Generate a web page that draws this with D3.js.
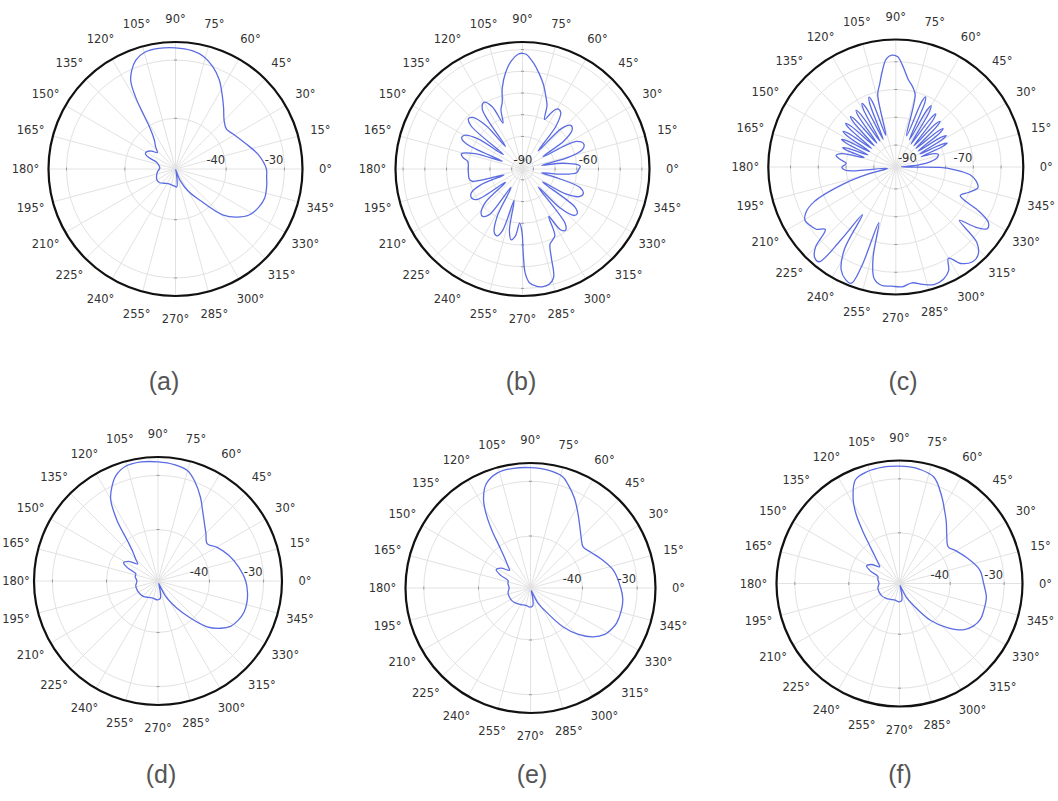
<!DOCTYPE html>
<html>
<head>
<meta charset="utf-8">
<script src="https://cdn.jsdelivr.net/npm/d3@7"></script>
<style>
body { margin: 0; background: #fff; }
svg { display: block; }
</style>
</head>
<body>
<svg id="chart" width="1058" height="801"></svg>
<script>
// angle ticks every 15 degrees
var angleTicks = d3.range(0, 360, 15);

// (a) far-field pattern, dB
var angA = [0,10,20,30,38,45,52,58,64,70,76,82,90,98,105,110,114,117,119,120.5,122,126,132,138,143,148,153,157,160,168,177,188,198,210,221,232,243,255,265,274,278,284,288,292,300,308,316,322,328,335,342,350,355];
var dbA  = [-33.1,-34.3,-35.9,-37.0,-37.6,-36.9,-35.3,-33.6,-31.6,-30.0,-28.8,-28.2,-27.9,-27.8,-28.0,-28.8,-30.2,-31.8,-34.5,-38.0,-40.5,-42.5,-43.6,-44.5,-43.6,-43.0,-42.9,-43.8,-45.2,-45.8,-46.0,-45.6,-45.3,-45.0,-45.1,-45.6,-45.9,-45.9,-45.8,-45.6,-46.8,-48.2,-48.6,-46.6,-44.3,-41.9,-37.3,-35.3,-33.8,-33.0,-32.6,-32.8,-33.0];

// (b)
var angB = [0,3,8,11,14,18,22,27,31,34,38,42,46,49,52,56,60,63,66,69,72.5,76,80,84,88,90,92,96,100,104,107,110,113,116,120,124,127,130,134,137,140,143,146,150,153,156,159,162,166,169,172,176,180,185,190,193.5,196,198,201,205,210,214,218,222,227,230,234,238,242,246,249,252,255,258,261,264,267,269.5,270.5,271.5,273.5,277,280,283,286,288,290,293,296,299,302,305,308,311,314,318,321,324,327,330,334,338,342,346,349,352,356];
var dbB  = [-69,-68.4,-76,-86,-74,-66,-64.5,-67,-84,-72,-66,-65,-69,-84,-70,-63.5,-63,-66,-70,-63.5,-59.5,-55,-50.5,-46,-42.2,-41.7,-42,-45,-50,-56.5,-63,-66,-72,-63,-59.5,-62,-82,-69,-62,-61,-64,-84,-70,-64,-63.5,-67,-85,-72,-66,-67,-69.5,-70,-70,-70,-70,-71,-80,-86,-74,-69,-68,-70,-85,-72,-67,-66.5,-69,-85,-70,-63,-62,-65,-80,-66,-62,-64,-70,-66,-56,-47,-42.5,-40.5,-40,-40.5,-43,-52,-58,-59.5,-61,-70,-62,-60.5,-63,-84,-70,-63,-62.5,-65,-84,-72,-66,-64.8,-67,-80,-86,-78,-70];

// (c)
var angC = [1,5,9,13,17,20,22,23.7,25,26.3,28.5,30.7,32,33.3,35.5,37.7,39,40.3,42.5,44.7,46,47.3,49.5,51.7,53,54.3,56.5,58.7,60,61.3,63.5,65.7,67,68.3,71,75,78,82,86,89,92,95,98,101,104,107.5,109.7,111,112.3,114.5,116.7,118,119.3,121.5,123.7,125,126.3,128.5,130.7,132,133.3,135.5,137.7,139,140.3,142.5,144.7,146,147.3,149.5,151.7,153,154.3,156.5,158.7,160,161.3,163.5,166,169,172,176,180,184,189,194,198,203,207,210.5,214,218,221.5,225,228,231,233,235,238,242,246,249,251,253,256,259,263,268,273,278,283,288,293,297,300,304,309,313,317,320,323,326,329,332,336,341,346,350,354,357.5,359.5];
var dbC  = [-96,-90,-85,-82.5,-82,-84,-88,-79.5,-77.5,-79.5,-88,-78.5,-76.5,-78.5,-88,-78,-76,-78,-88,-77,-75,-77,-88,-76,-74,-76,-88,-74.5,-72.5,-74.5,-87,-72.5,-70.5,-72.5,-86,-71,-68.5,-66,-61.5,-58.2,-57.6,-58.8,-63,-67.5,-71,-86,-73,-71,-73,-87,-74,-72,-74,-87,-75,-73,-75,-87,-75.5,-73.5,-75.5,-87,-76,-74,-76,-87,-77,-75,-77,-87,-78,-76,-78,-87,-79.5,-77.5,-79.5,-86,-78,-76,-77.5,-80,-78.5,-80,-95,-88,-78,-66,-61.5,-60,-60.5,-61.5,-64,-57,-54.2,-54,-65,-77,-63,-56,-53.5,-53,-60,-77,-64,-57,-55,-55,-54.7,-55.8,-54.5,-53.4,-54,-56,-60,-56,-54,-54.5,-58,-68,-62,-58.2,-59,-64,-72.5,-70,-67.4,-68.5,-71,-77,-82];

// (d)
var angD = [0,10,20,30,37,45,53,58,63,70,75,82,90,98,106,112,116,120,124,127,131,136,140,146,152,157,162,169,180,192,203,215,228,240,255,268,277,282,287,292,296,302,308,317,323,328,334,340,346,352];
var dbD  = [-33.3,-34.4,-35.6,-37.0,-38.1,-37.0,-35.4,-34.0,-32.2,-29.8,-28.4,-27.8,-27.5,-27.3,-27.5,-28.6,-30.1,-32.0,-35.9,-40.0,-42.5,-43.8,-44.6,-43.0,-42.3,-43.5,-45.2,-45.2,-45.6,-45.3,-45.3,-45.4,-45.6,-46.0,-46.2,-46.0,-46.2,-47.5,-49.0,-48.5,-46.5,-44.5,-42.0,-37.1,-35.0,-33.7,-33.0,-32.6,-32.6,-32.8];

// (e)
var angE = [0,12,22,30,38,45,52,58,64,70,74,82,90,98,106,113,118,121,124,127,131,136,140,146,152,157,162,169,180,192,203,215,228,240,255,268,277,282,287,292,296,302,310,316,322,328,334,338,346,353];
var dbE  = [-33.0,-34.0,-35.5,-36.6,-37.3,-36.4,-34.9,-33.2,-31.2,-29.4,-28.3,-27.7,-27.5,-27.4,-27.6,-28.8,-31.2,-33.8,-37.0,-40.2,-42.4,-43.8,-44.5,-43.0,-42.4,-43.6,-45.2,-45.3,-45.6,-45.3,-45.3,-45.4,-45.7,-46.0,-46.2,-46.0,-46.2,-47.5,-49.0,-48.5,-46.6,-44.8,-40.2,-37.3,-35.0,-33.5,-32.8,-32.5,-32.4,-32.5];

// (f)
var angF = [0,9.5,20,30,37,45,53,58,64,72,80,85,90,98,106,113,119,122,125,128,132,136,140,146,152,157,162,169,180,192,203,215,228,240,255,268,277,282,287,292,296,302,310,317,324,330,336,342,351,356];
var dbF  = [-33.8,-34.3,-35.9,-37.3,-38.1,-37.0,-35.0,-33.6,-31.5,-28.7,-27.9,-27.7,-27.65,-27.6,-27.8,-28.5,-31.7,-34.2,-37.5,-40.3,-42.6,-43.9,-44.6,-43.1,-42.5,-43.6,-45.2,-45.3,-45.6,-45.3,-45.3,-45.4,-45.7,-46.0,-46.2,-46.0,-46.2,-47.5,-49.0,-48.5,-46.6,-44.8,-40.5,-37.5,-34.8,-33.6,-33.0,-33.0,-33.1,-33.5];

var panels = [
  {name: '(a)', cx: 175.5, cy: 169, R: 127, dom: [-48.7, -26.9], rings: [-40, -30], labels: [-40, -30], ang: angA, db: dbA, lx: 164, ly: 390},
  {name: '(b)', cx: 522.5, cy: 169, R: 127, dom: [-95, -36.5], rings: [-90, -80, -70, -60, -50, -40], labels: [-90, -60], ang: angB, db: dbB, lx: 521, ly: 390},
  {name: '(c)', cx: 895.8, cy: 167, R: 127.5, dom: [-97.9, -52], rings: [-90, -80, -70, -60], labels: [-90, -70], ang: angC, db: dbC, lx: 903, ly: 390},
  {name: '(d)', cx: 158, cy: 581, R: 124, dom: [-49.5, -26.6], rings: [-40, -30], labels: [-40, -30], ang: angD, db: dbD, lx: 161, ly: 783},
  {name: '(e)', cx: 530.5, cy: 588, R: 125, dom: [-49.5, -26.65], rings: [-40, -30], labels: [-40, -30], ang: angE, db: dbE, lx: 532, ly: 783},
  {name: '(f)', cx: 899.5, cy: 583.5, R: 123, dom: [-49.4, -26.6], rings: [-40, -30], labels: [-40, -30], ang: angF, db: dbF, lx: 900, ly: 783}
];

var svg = d3.select('#chart');
var toRad = Math.PI / 180;

panels.forEach(function(p) {
  var g = svg.append('g').attr('transform', 'translate(' + p.cx + ',' + p.cy + ')');
  var r = d3.scaleLinear().domain(p.dom).range([0, p.R]).clamp(true);

  // spokes
  g.selectAll('line.spoke').data(angleTicks).enter().append('line')
    .attr('class', 'spoke')
    .attr('x1', 0).attr('y1', 0)
    .attr('x2', function(a) { return p.R * Math.cos(a * toRad); })
    .attr('y2', function(a) { return -p.R * Math.sin(a * toRad); })
    .attr('stroke', '#e2e2e2').attr('stroke-width', 1);

  // rings
  g.selectAll('circle.ring').data(p.rings).enter().append('circle')
    .attr('class', 'ring')
    .attr('r', function(v) { return r(v); })
    .attr('fill', 'none').attr('stroke', '#e2e2e2').attr('stroke-width', 1);

  // small ticks where rings cross the axes
  [0, 90, 180, 270].forEach(function(a) {
    var ca = Math.cos(a * toRad), sa = -Math.sin(a * toRad);
    g.selectAll(null).data(p.rings).enter().append('line')
      .attr('x1', function(v) { return r(v) * ca - 1.5 * sa; })
      .attr('y1', function(v) { return r(v) * sa + 1.5 * ca; })
      .attr('x2', function(v) { return r(v) * ca + 1.5 * sa; })
      .attr('y2', function(v) { return r(v) * sa - 1.5 * ca; })
      .attr('stroke', '#999').attr('stroke-width', 1);
  });

  // pattern curve
  var pts = p.ang.map(function(a, i) { return {a: a, v: p.db[i]}; });
  var line = d3.lineRadial()
    .angle(function(d) { return (90 - d.a) * toRad; })
    .radius(function(d) { return r(d.v); })
    .curve(d3.curveCatmullRomClosed.alpha(0.5));
  g.append('path').attr('d', line(pts))
    .attr('fill', 'none').attr('stroke', '#5b6ce2').attr('stroke-width', 1.3);

  // outer circle
  g.append('circle').attr('r', p.R)
    .attr('fill', 'none').attr('stroke', '#111').attr('stroke-width', 2.2);

  // radial labels
  g.selectAll('text.rl').data(p.labels).enter().append('text')
    .attr('class', 'rl')
    .attr('x', function(v) { return r(v) - 1; })
    .attr('y', -5)
    .attr('text-anchor', 'end')
    .attr('font-family', 'DejaVu Sans, sans-serif').attr('font-size', 11.5)
    .attr('fill', '#333')
    .text(function(v) { return v; });

  // angle labels (kept inside the page on the left edge)
  g.selectAll('text.al').data(angleTicks).enter().append('text')
    .attr('class', 'al')
    .attr('x', function(a) {
      var x = (p.R + 23) * Math.cos(a * toRad);
      return Math.max(x, 16 - p.cx);
    })
    .attr('y', function(a) { return -(p.R + 23) * Math.sin(a * toRad); })
    .attr('text-anchor', 'middle').attr('dominant-baseline', 'central')
    .attr('font-family', 'DejaVu Sans, sans-serif').attr('font-size', 11.5)
    .attr('fill', '#333')
    .text(function(a) { return a + '°'; });

  // panel caption
  svg.append('text').attr('x', p.lx).attr('y', p.ly)
    .attr('text-anchor', 'middle')
    .attr('font-family', 'Liberation Sans, Arial, sans-serif').attr('font-size', 25)
    .attr('fill', '#555')
    .text(p.name);
});
</script>
</body>
</html>
